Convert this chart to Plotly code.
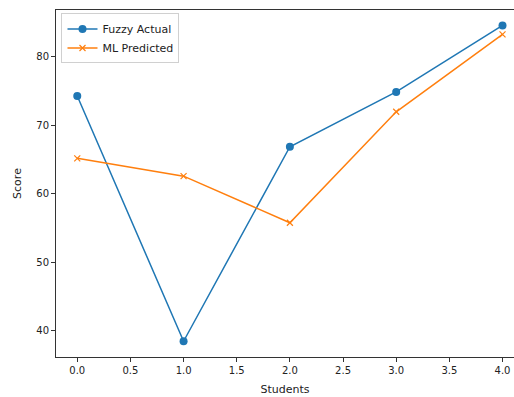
import plotly.graph_objects as go

students = [0, 1, 2, 3, 4]
fuzzy_actual = [74.3, 38.5, 66.9, 74.9, 84.6]
ml_predicted = [65.2, 62.6, 55.8, 72.0, 83.3]
y_ticks = [40, 50, 60, 70, 80]
x_ticks = [0.0, 0.5, 1.0, 1.5, 2.0, 2.5, 3.0, 3.5, 4.0]

font = "DejaVu Sans"
fig = go.Figure()
fig.add_trace(go.Scatter(
    x=students, y=fuzzy_actual, mode="lines+markers", name="Fuzzy Actual",
    line=dict(color="#1f77b4", width=1.5),
    marker=dict(symbol="circle", size=8, color="#1f77b4"),
))
fig.add_trace(go.Scatter(
    x=students, y=ml_predicted, mode="lines+markers", name="ML Predicted",
    line=dict(color="#ff7f0e", width=1.5),
    marker=dict(symbol="x-thin", size=6, line=dict(color="#ff7f0e", width=1.2)),
))

fig.update_layout(
    width=514, height=397,
    margin=dict(l=56, r=0, t=10, b=40),
    plot_bgcolor="white", paper_bgcolor="white",
    font=dict(family=font, size=10, color="#222"),
    showlegend=True,
    legend=dict(x=0.012, y=0.99, xanchor="left", yanchor="top",
                bgcolor="rgba(255,255,255,0.8)", bordercolor="#d0d0d0", borderwidth=1,
                font=dict(family=font, size=11, color="#222")),
    xaxis=dict(range=[-0.2, 4.108], tickvals=x_ticks, tickformat=".1f",
               showgrid=False, zeroline=False, showline=True, linecolor="#333",
               linewidth=1, mirror=True, ticks="outside", ticklen=4, tickcolor="#333",
               title=dict(text="Students", font=dict(family=font, size=11), standoff=10)),
    yaxis=dict(range=[36.2, 86.86], tickvals=y_ticks,
               showgrid=False, zeroline=False, showline=True, linecolor="#333",
               linewidth=1, ticks="outside", ticklen=4, tickcolor="#333",
               title=dict(text="Score", font=dict(family=font, size=11), standoff=12)),
)
fig.write_html("out.html")
